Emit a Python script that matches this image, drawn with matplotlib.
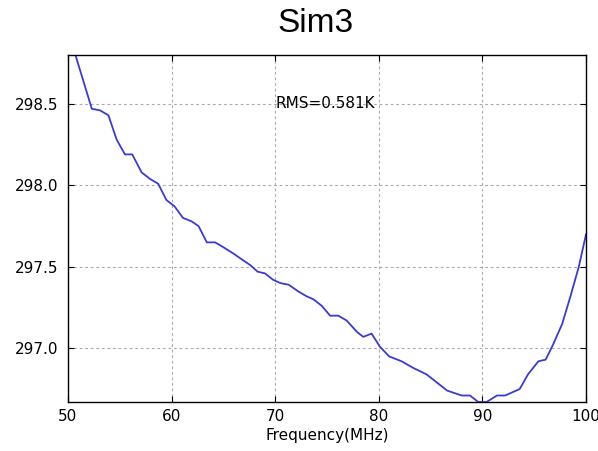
# -*- coding: utf-8 -*-
import numpy as np
import matplotlib
matplotlib.use('Agg')
import matplotlib.pyplot as plt

# frequency (MHz) and temperature (K)
freq = [50.0, 52.3, 53.1, 53.9, 54.7, 55.5, 56.2, 57.1, 57.9, 58.7,
        59.5, 60.3, 61.1, 61.9, 62.6, 63.4, 64.2, 65.0, 66.0, 66.9,
        67.6, 68.3, 69.0, 69.8, 70.5, 71.3, 72.2, 73.0, 73.7, 74.5,
        75.3, 76.1, 76.9, 77.9, 78.5, 79.3, 80.1, 81.0, 82.2, 83.3,
        84.6, 85.6, 86.6, 88.0, 88.8, 89.6, 90.4, 91.4, 92.2, 93.6,
        94.4, 95.4, 96.1, 96.8, 97.7, 98.5, 99.3, 100.0]
temp = [298.95, 298.47, 298.46, 298.43, 298.28, 298.19, 298.19, 298.08, 298.04, 298.01,
        297.91, 297.87, 297.80, 297.78, 297.75, 297.65, 297.65, 297.62, 297.58, 297.54,
        297.51, 297.47, 297.46, 297.42, 297.40, 297.39, 297.35, 297.32, 297.30, 297.26,
        297.20, 297.20, 297.17, 297.10, 297.07, 297.09, 297.01, 296.95, 296.92, 296.88,
        296.84, 296.79, 296.74, 296.71, 296.71, 296.67, 296.67, 296.71, 296.71, 296.75,
        296.84, 296.92, 296.93, 297.02, 297.15, 297.32, 297.50, 297.70]
xticks = [50, 60, 70, 80, 90, 100]
yticks = [297.0, 297.5, 298.0, 298.5]
rms_label = "RMS=0.581K"


def plot_sim(figname='out.png', fontsize=11):
    fig = plt.figure(figsize=(5.98, 4.51), dpi=100)
    ax = fig.add_axes([0.1137, 0.1086, 0.8663, 0.7694])

    ax.plot(freq, temp, color='#3a3ad6', lw=1.3)

    ax.set_xlim(50, 100)
    ax.set_ylim(296.67, 298.80)
    ax.set_xticks(xticks)
    ax.set_yticks(yticks)
    ax.set_yticklabels(["%.1f" % v for v in yticks])

    ax.grid(True, color='#aaaaaa', linestyle=(0, (2.5, 2.5)), lw=0.8)
    ax.tick_params(direction='in', top=True, right=True, length=4,
                   labelsize=fontsize)
    ax.tick_params(axis='y', pad=7)
    ax.tick_params(axis='x', pad=5)
    for sp in ax.spines.values():
        sp.set_linewidth(1.0)

    ax.set_xlabel('Frequency(MHz)', fontsize=fontsize, labelpad=3)
    ax.text(70.0, 298.5, rms_label, fontsize=fontsize, ha='left', va='center')

    fig.text(0.528, 0.948, 'Sim3', fontsize=24, ha='center', va='center',
             family='Liberation Sans')

    fig.savefig(figname, dpi=100)
    return fig


if __name__ == '__main__':
    plot_sim()
